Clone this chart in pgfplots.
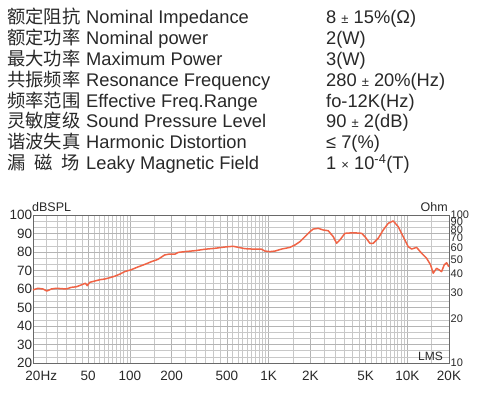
\documentclass[border=0pt]{standalone}
\usepackage{fontspec}
\setmainfont{Liberation Sans}
\newfontfamily\cjk{Noto Sans CJK SC}
\usepackage{pgfplots}
\pgfplotsset{compat=1.18}
\definecolor{txt}{RGB}{40,40,40}
\definecolor{curve}{RGB}{240,100,70}
\definecolor{gridmaj}{RGB}{180,180,180}
\definecolor{gridmin}{RGB}{200,200,200}
\definecolor{frame}{RGB}{105,105,105}
\begin{document}
\begin{tikzpicture}[x=1pt,y=1pt]
\path[use as bounding box] (0pt,0pt) rectangle (491pt,394pt);
% ---- spec table ----
\begin{scope}[every node/.style={anchor=base west,inner sep=0pt,text=txt}]
\def\cjkf{\cjk\fontsize{18.3}{20}\selectfont}
\def\enf{\fontsize{18.3}{20}\selectfont}
\node at (7pt,370pt)   {\cjkf 额定阻抗};
\node at (7pt,349.2pt) {\cjkf 额定功率};
\node at (7pt,328.4pt) {\cjkf 最大功率};
\node at (7pt,307.6pt) {\cjkf 共振频率};
\node at (7pt,286.8pt) {\cjkf 频率范围};
\node at (7pt,266pt)   {\cjkf 灵敏度级};
\node at (7pt,245.2pt) {\cjkf 谐波失真};
\node at (7pt,224.4pt) {\cjkf \makebox[73pt][s]{漏\hfill 磁\hfill 场}};
\node at (86pt,370pt)   {\enf Nominal Impedance};
\node at (86pt,349.2pt) {\enf Nominal power};
\node at (86pt,328.4pt) {\enf Maximum Power};
\node at (86pt,307.6pt) {\enf Resonance Frequency};
\node at (86pt,286.8pt) {\enf Effective Freq.Range};
\node at (86pt,266pt)   {\enf Sound Pressure Level};
\node at (86pt,245.2pt) {\enf Harmonic Distortion};
\node at (86pt,224.4pt) {\enf Leaky Magnetic Field};
\node at (326pt,370pt)   {\enf 8 {\fontsize{13}{14}\selectfont ±} 15\%(Ω)};
\node at (326pt,349.2pt) {\enf 2(W)};
\node at (326pt,328.4pt) {\enf 3(W)};
\node at (326pt,307.6pt) {\enf 280 {\fontsize{13}{14}\selectfont ±} 20\%(Hz)};
\node at (326pt,286.8pt) {\enf fo-12K(Hz)};
\node at (326pt,266pt)   {\enf 90 {\fontsize{13}{14}\selectfont ±} 2(dB)};
\node at (326pt,245.2pt) {\enf ≤ 7(\%)};
\node at (326pt,224.4pt) {\enf 1 {\fontsize{13}{14}\selectfont ×} 10\textsuperscript{-4}(T)};
\end{scope}
% ---- frequency response ----
\begin{axis}[
  at={(33pt,31pt)}, anchor=south west, scale only axis,
  width=416pt, height=148pt,
  xmode=log, xmin=20, xmax=20000, ymin=20, ymax=100,
  xtick={20,50,100,200,500,1000,2000,5000,10000,20000},
  xticklabels={20\rlap{Hz},50,100,200,500,1K,2K,5K,10K,20K},
  minor xtick={25,30,35,40,45,55,60,65,70,75,80,85,90,95,
    150,250,300,350,400,450,550,600,650,700,750,800,850,900,950,
    1500,2500,3000,3500,4000,4500,5500,6000,6500,7000,7500,8000,8500,9000,9500,
    15000},
  ytick={20,30,...,100},
  minor y tick num=2,
  grid=both,
  major grid style={draw=gridmaj,line width=0.6pt},
  minor grid style={draw=gridmin,line width=0.5pt},
  axis line style={draw=frame,line width=0.8pt},
  major tick length=0pt, minor tick length=0pt,
  /pgf/number format/assume math mode=true,
  xticklabel style={font=\fontsize{13.5}{13.5}\selectfont, text=txt, inner sep=2pt, yshift=-6pt},
  yticklabel style={font=\fontsize{13.5}{13.5}\selectfont, text=txt, inner xsep=0.6pt},
  clip=false,
]
\addplot[curve, line width=1.5pt, line join=round] coordinates {
(20,59.5) (21.7,60.4) (23.6,60) (25.2,58.9) (27.1,60) (29.4,60.4) (32,60.2)
(34.8,60) (37.8,60.9) (41,61.2) (44.6,62.2) (47.7,63.1) (49.3,61.8) (51.3,63.6)
(55.7,64.3) (60.5,65) (65.8,65.4) (71.5,66.1) (77.6,66.9) (84.4,68) (91.7,69.4)
(102,70.4) (114,71.9) (128,73.3) (143,74.8) (159,76) (178,78.4) (193,78.9)
(211,78.8) (223,79.8) (249,80.2) (294,80.7) (348,81.5) (410,82) (485,82.7)
(556,83.1) (588,82.7) (675,81.8) (797,81.5) (891,81.5) (941,80.5) (1023,80.2)
(1111,80.5) (1242,81.6) (1426,82.5) (1549,83.8) (1683,85.6) (1828,88.3) (1986,91)
(2098,92.4) (2280,92.8) (2478,91.9) (2692,91.5) (2926,88.3) (3095,84.7) (3270,86.5)
(3553,90.1) (4078,90.4) (4688,90.1) (4952,88.3) (5380,84.7) (5683,84.7) (6175,87.4)
(6709,91.9) (7290,95.5) (7920,96.8) (8605,93.7) (9350,88.3) (10158,82.9) (10748,81.6)
(11678,82.5) (12692,79.3) (13790,76.6) (14738,73) (15388,68.5) (16278,71.2)
(16994,70.3) (17686,69.4) (18468,73) (19220,74.2) (19960,72)
};
\end{axis}
\begin{axis}[
  at={(33pt,31pt)}, anchor=south west, scale only axis,
  width=416pt, height=148pt,
  xmode=log, xmin=20, xmax=20000,
  ymode=log, ymin=10, ymax=100,
  hide x axis,
  axis y line*=right,
  y axis line style={draw=none},
  ytick={10,20,30,40,50,60,70,80,90,100},
  yticklabels={10,20,30,40,50,60,70,80,90,100},
  major tick length=0pt, minor tick length=0pt,
  minor ytick={},
  /pgf/number format/assume math mode=true,
  yticklabel style={font=\fontsize{11}{11}\selectfont, text=txt, anchor=west, inner xsep=1.5pt},
]
\end{axis}
\node[anchor=west,inner sep=0pt,text=txt,font=\fontsize{12.5}{12.5}\selectfont] at (32pt,187pt) {dBSPL};
\node[anchor=east,inner sep=0pt,text=txt,font=\fontsize{12.5}{12.5}\selectfont] at (448pt,187pt) {Ohm};
\node[anchor=east,inner sep=0pt,text=txt,font=\fontsize{12}{12}\selectfont] at (443pt,38pt) {LMS};
\end{tikzpicture}
\end{document}
